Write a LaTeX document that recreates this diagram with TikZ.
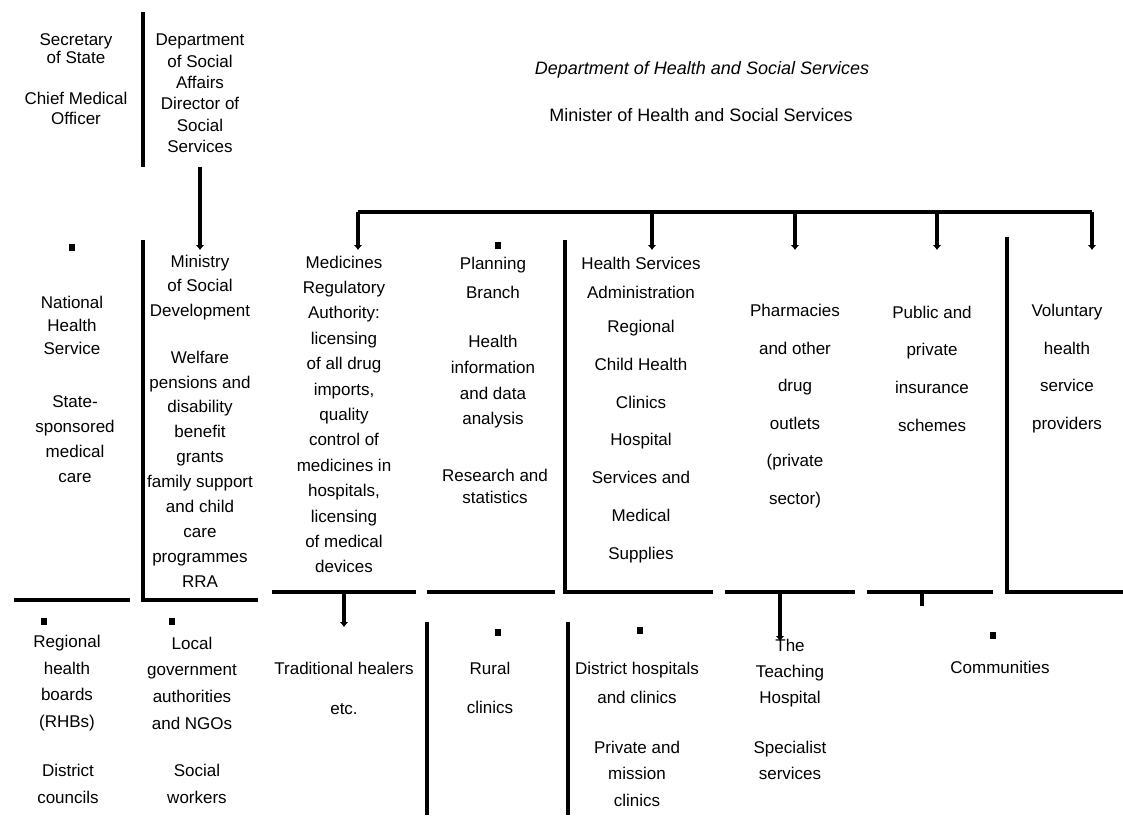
\documentclass[tikz,border=0pt]{standalone}
\usepackage{fontspec}
\setmainfont{Liberation Sans}
\usetikzlibrary{arrows.meta}
\begin{document}
\begin{tikzpicture}[x=1pt,y=-1pt,
  txt/.style={align=center, inner sep=0pt, font=\fontsize{17}{#1}\selectfont},
  txt/.default=25,
  ttl/.style={align=center, inner sep=0pt, font=\fontsize{18}{22}\selectfont},
  rule/.style={line width=4pt},
  feed/.style={line width=4pt, -{Latex[length=5pt,width=9pt]}},
  tick/.style={fill=black}
]
\useasboundingbox (0,0) rectangle (1123,818);
\fill[white] (0,0) rectangle (1123,818);

% ---------- top ----------
\node[txt=18] (topA1) at (76,49) {Secretary\\of State};
\node[txt=20] (topA2) at (76,108) {Chief Medical\\Officer};
\node[txt=21.4] (topB) at (200,93.5) {Department\\of Social\\Affairs\\Director of\\Social\\Services};
\node[ttl, font=\fontsize{18}{22}\selectfont\itshape] (title1) at (702,70) {Department of Health and Social Services};
\node[ttl] (title2) at (701,115) {Minister of Health and Social Services};

% ---------- middle row ----------
\node[txt=23] (c1a) at (72,325) {National\\Health\\Service};
\node[txt=25] (c1b) at (75,439.5) {State-\\sponsored\\medical\\care};
\node[txt=24.5] (c2a) at (200,287.5) {Ministry\\of Social\\Development};
\node[txt=24.9] (c2b) at (200,469) {Welfare\\pensions and\\disability\\benefit\\grants\\family support\\and child\\care\\programmes\\RRA};
\node[txt=25.4] (c3) at (344,414.5) {Medicines\\Regulatory\\Authority:\\licensing\\of all drug\\imports,\\quality\\control of\\medicines in\\hospitals,\\licensing\\of medical\\devices};
\node[txt=29] (c4a) at (493,277.5) {Planning\\Branch};
\node[txt=25.7] (c4b) at (493,382) {Health\\information\\and data\\analysis};
\node[txt=22] (c4c) at (495,486) {Research and\\statistics};
\node[txt=29] (c5a) at (641,277.5) {Health Services\\Administration};
\node[txt=37.8] (c5b) at (641,441.5) {Regional\\Child Health\\Clinics\\Hospital\\Services and\\Medical\\Supplies};
\node[txt=37.6] (c6) at (795,406) {Pharmacies\\and other\\drug\\outlets\\(private\\sector)};
\node[txt=37.7] (c7) at (932,368.5) {Public and\\private\\insurance\\schemes};
\node[txt=37.7] (c8) at (1067,368.5) {Voluntary\\health\\service\\providers};

% ---------- bottom row ----------
\node[txt=26.7] (bA1) at (67,683) {Regional\\health\\boards\\(RHBs)};
\node[txt=27] (bA2) at (68,783.5) {District\\councils};
\node[txt=26.7] (bB1) at (192,683) {Local\\government\\authorities\\and NGOs};
\node[txt=27] (bB2) at (197,783.5) {Social\\workers};
\node[txt=40] (bC) at (344,688) {Traditional healers\\etc.};
\node[txt=39] (bD) at (490,687.5) {Rural\\clinics};
\node[txt=29] (bE1) at (637,682.5) {District hospitals\\and clinics};
\node[txt=26.5] (bE2) at (637,773.5) {Private and\\mission\\clinics};
\node[txt=26] (bF1) at (790,673) {The\\Teaching\\Hospital};
\node[txt=26] (bF2) at (790,760) {Specialist\\services};
\node[txt] (bG) at (1000,667) {Communities};

% ---------- rules / separators ----------
\draw[rule] (143,12) -- (143,167);
\draw[rule] (143,240) -- (143,600) -- (258,600);
\draw[rule] (14,600) -- (130,600);
\draw[rule] (565,240) -- (565,592) -- (713,592);
\draw[rule] (1007,237) -- (1007,592) -- (1123,592);
\draw[rule] (272,592) -- (416,592);
\draw[rule] (427,592) -- (555,592);
\draw[rule] (725,592) -- (855,592);
\draw[rule] (867,592) -- (993,592);
\draw[rule] (427,622) -- (427,815);
\draw[rule] (568,622) -- (568,815);

% ---------- connectors ----------
\coordinate (topBout) at (200,167);
\coordinate (c2in) at (200,250);
\draw[feed] (topBout) -- (c2in);

\coordinate (busL) at (358,212);
\coordinate (busR) at (1092,212);
\coordinate (b5) at (652,212);
\coordinate (b6) at (795,212);
\coordinate (b7) at (937,212);
\coordinate (c3in) at (358,250);
\coordinate (c5in) at (652,250);
\coordinate (c6in) at (795,250);
\coordinate (c7in) at (937,250);
\coordinate (c8in) at (1092,250);
\draw[rule] (busL) -- (busR);
\draw[feed] (busL) -- (c3in);
\draw[feed] (b5) -- (c5in);
\draw[feed] (b6) -- (c6in);
\draw[feed] (b7) -- (c7in);
\draw[feed] (busR) -- (c8in);

\coordinate (d3) at (344,592);
\coordinate (bCin) at (344,627);
\coordinate (d6) at (780,592);
\coordinate (bFin) at (780,641);
\coordinate (d7) at (922,592);
\coordinate (d7e) at (922,606);
\draw[feed] (d3) -- (bCin);
\draw[feed] (d6) -- (bFin);
\draw[rule] (d7) -- (d7e);

% ---------- small marks ----------
\foreach \mx/\my in {72/247, 498/245, 44/621, 172/621, 498/632, 640/630, 993/635}
  \fill[tick] (\mx-3,\my-3.5) rectangle (\mx+3,\my+3.5);
\end{tikzpicture}
\end{document}
